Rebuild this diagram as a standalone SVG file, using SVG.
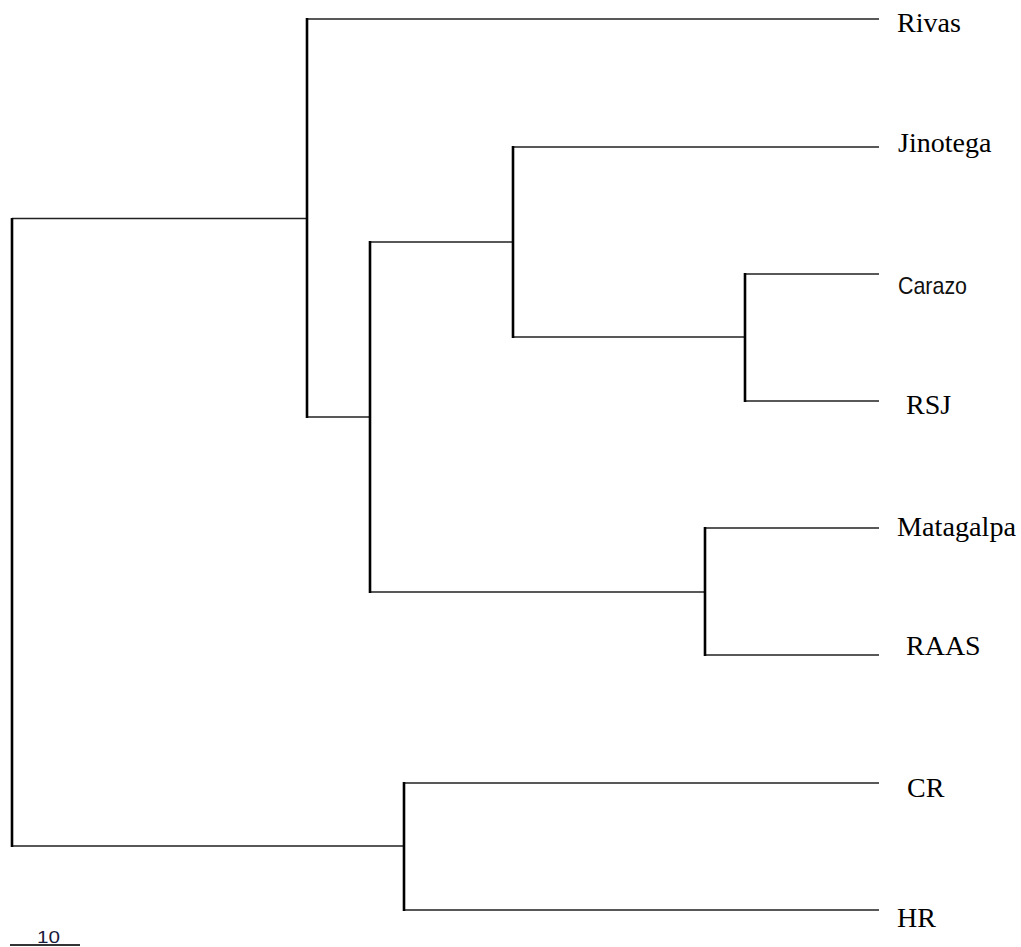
<svg xmlns="http://www.w3.org/2000/svg" width="1021" height="947" viewBox="0 0 1021 947">
<style>
.h{stroke:#222;stroke-width:1.6;fill:none}
.v{stroke:#000;stroke-width:2.6;fill:none}
.lab{font-family:"Liberation Serif","Times New Roman",serif;font-size:28px;fill:#000}
.sans{font-family:"Liberation Sans",Arial,sans-serif;font-size:24px;fill:#111}
.scale{font-family:"Liberation Sans",Arial,sans-serif;font-size:16px;fill:#1a1a3a}
</style>
<rect width="1021" height="947" fill="#fff"/>
<g id="connectors">
<path class="h" d="M12 218.5H307 M12 846H404 M307 19H879 M307 417H370 M370 242H513 M513 147H879 M513 337H745 M745 274H879 M745 401H879 M370 592H705 M705 528H879 M705 655H879 M404 783H879 M404 910H879"/>
<path class="v" d="M12 218V847 M307 18V418 M370 241V593 M513 146V338 M745 273V402 M705 527V656 M404 782V911"/>
</g>
<g id="n-rivas"><text class="lab" x="897" y="32">Rivas</text></g>
<g id="n-jinotega"><text class="lab" x="898" y="152">Jinotega</text></g>
<g id="n-carazo"><text class="sans" x="898" y="294" textLength="69" lengthAdjust="spacingAndGlyphs">Carazo</text></g>
<g id="n-rsj"><text class="lab" x="906" y="414">RSJ</text></g>
<g id="n-matagalpa"><text class="lab" x="897" y="536" textLength="119" lengthAdjust="spacingAndGlyphs">Matagalpa</text></g>
<g id="n-raas"><text class="lab" x="906" y="655">RAAS</text></g>
<g id="n-cr"><text class="lab" x="907" y="797">CR</text></g>
<g id="n-hr"><text class="lab" x="897" y="927">HR</text></g>
<g id="scale-bar">
<line x1="10" y1="945" x2="80" y2="945" stroke="#333" stroke-width="2"/>
<text class="scale" x="37" y="943" textLength="23" lengthAdjust="spacingAndGlyphs">10</text>
</g>
</svg>
